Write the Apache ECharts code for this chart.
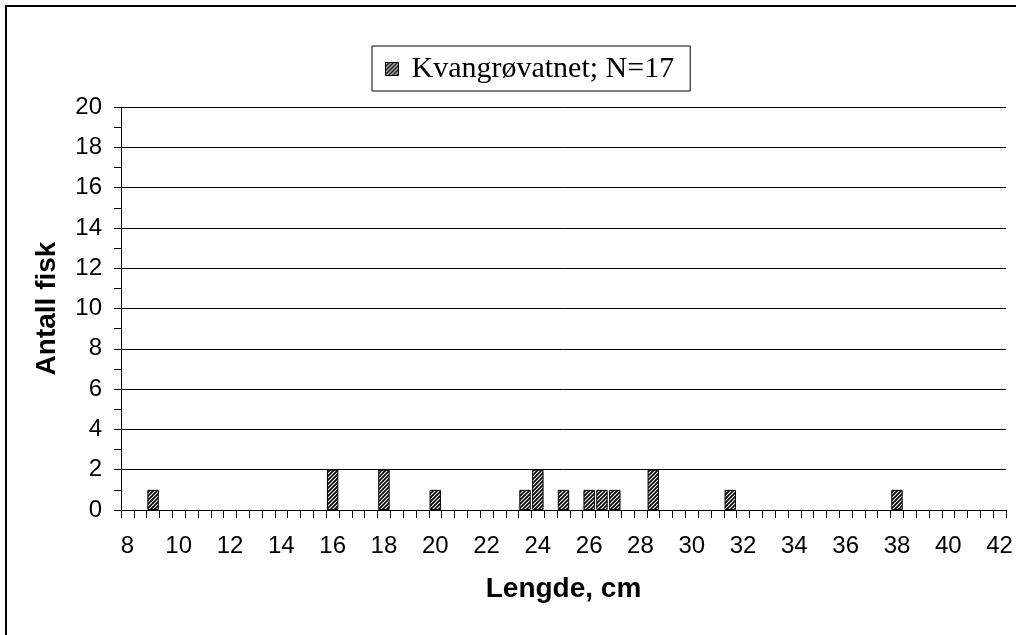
<!DOCTYPE html>
<html>
<head>
<meta charset="utf-8">
<script src="https://cdn.jsdelivr.net/npm/echarts@6/dist/echarts.min.js"></script>
<style>
html,body{margin:0;padding:0;background:#fff;}
#chart{width:1016px;height:635px;}
</style>
</head>
<body>
<div id="chart"></div>
<script>
// Length classes on the category axis (cm)
var categories = ['8','8.5','9','9.5','10','10.5','11','11.5','12','12.5','13','13.5','14','14.5','15','15.5','16','16.5','17','17.5','18','18.5','19','19.5','20','20.5','21','21.5','22','22.5','23','23.5','24','24.5','25','25.5','26','26.5','27','27.5','28','28.5','29','29.5','30','30.5','31','31.5','32','32.5','33','33.5','34','34.5','35','35.5','36','36.5','37','37.5','38','38.5','39','39.5','40','40.5','41','41.5','42'];
// Observed lengths and number of fish
var lengths = ['9','16','18','20','23.5','24','25','26','26.5','27','28.5','31.5','38'];
var counts  = [1, 2, 2, 1, 1, 2, 1, 1, 1, 1, 2, 1, 1];
var seriesName = 'Kvangrøvatnet; N=17';
var yTicks = [0, 2, 4, 6, 8, 10, 12, 14, 16, 18, 20];

var lookup = {};
lengths.forEach(function (l, i) { lookup[l] = counts[i]; });
var barData = categories.map(function (c) { return lookup[c] !== undefined ? lookup[c] : '-'; });

// diagonal hatch pattern
var tile = document.createElement('canvas');
tile.width = 4; tile.height = 4;
var ctx = tile.getContext('2d');
ctx.fillStyle = '#fff';
ctx.fillRect(0, 0, 4, 4);
ctx.strokeStyle = '#000';
ctx.lineWidth = 1.7;
ctx.beginPath();
ctx.moveTo(-1, 5); ctx.lineTo(5, -1);
ctx.moveTo(-3, 3); ctx.lineTo(3, -3);
ctx.moveTo(1, 7); ctx.lineTo(7, 1);
ctx.stroke();
var hatch = { image: tile, repeat: 'repeat' };

var chart = echarts.init(document.getElementById('chart'), null, { renderer: 'canvas' });
chart.setOption({
  animation: false,
  backgroundColor: '#fff',
  graphic: [{
    type: 'rect',
    shape: { x: 6, y: 6, width: 1030, height: 660 },
    style: { fill: null, stroke: '#000', lineWidth: 2 },
    silent: true
  }],
  legend: {
    left: 372,
    top: 46,
    orient: 'horizontal',
    padding: [6, 16, 5, 13],
    borderColor: '#000',
    borderWidth: 1,
    backgroundColor: '#fff',
    itemWidth: 13,
    itemHeight: 13,
    icon: 'rect',
    data: [{ name: seriesName, itemStyle: { color: hatch, borderColor: '#000', borderWidth: 1 } }],
    textStyle: {
      fontFamily: 'Liberation Serif',
      fontSize: 30,
      color: '#000',
      lineHeight: 34,
      padding: [0, 0, 0, 8]
    }
  },
  grid: { left: 121, right: 10, top: 107, bottom: 125, containLabel: false },
  xAxis: {
    type: 'category',
    data: categories,
    boundaryGap: true,
    name: 'Lengde, cm',
    nameLocation: 'middle',
    nameGap: 65,
    nameTextStyle: { fontFamily: 'Liberation Sans', fontSize: 28, fontWeight: 'bold', color: '#000' },
    axisLine: { show: true, lineStyle: { color: '#000', width: 1 } },
    axisTick: { show: true, interval: 0, length: 8, inside: false, lineStyle: { color: '#000' } },
    axisLabel: { interval: 3, margin: 24, fontFamily: 'Liberation Sans', fontSize: 24, color: '#000' },
    splitLine: { show: false }
  },
  yAxis: {
    type: 'value',
    min: 0,
    max: 20,
    interval: 2,
    name: 'Antall fisk',
    nameLocation: 'middle',
    nameGap: 60,
    nameRotate: 90,
    nameTextStyle: { fontFamily: 'Liberation Sans', fontSize: 28, fontWeight: 'bold', color: '#000' },
    axisLine: { show: true, lineStyle: { color: '#000', width: 1 } },
    axisTick: { show: true, length: 7, inside: false, lineStyle: { color: '#000' } },
    minorTick: { show: true, splitNumber: 2, length: 7, lineStyle: { color: '#000' } },
    axisLabel: {
      margin: 19, fontFamily: 'Liberation Sans', fontSize: 24, color: '#000',
      formatter: function (v) { return yTicks.indexOf(v) >= 0 ? String(v) : ''; }
    },
    splitLine: { show: true, lineStyle: { color: '#000', width: 1 } }
  },
  series: [{
    name: seriesName,
    type: 'bar',
    data: barData,
    barCategoryGap: '11%',
    itemStyle: { color: hatch, borderColor: '#000', borderWidth: 1 }
  }]
});
</script>
</body>
</html>
